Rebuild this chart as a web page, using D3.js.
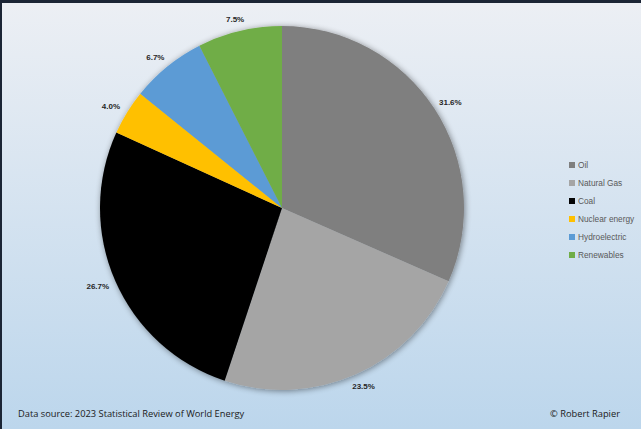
<!DOCTYPE html>
<html><head><meta charset="utf-8">
<script src="https://cdn.jsdelivr.net/npm/d3@7"></script>
<style>body{margin:0;padding:0;overflow:hidden;background:#fff}</style>
</head><body>
<script>
const categories = ["Oil","Natural Gas","Coal","Nuclear energy","Hydroelectric","Renewables"];
const values = [31.6,23.5,26.7,4.0,6.7,7.5];
const labels = ["31.6%","23.5%","26.7%","4.0%","6.7%","7.5%"];
const colors = ["#7f7f7f","#a5a5a5","#050505","#ffc000","#5b9bd5","#70ad47"];

const W=641,H=429;
const svg=d3.select("body").append("svg").attr("width",W).attr("height",H);
const defs=svg.append("defs");
const g=defs.append("linearGradient").attr("id","bg").attr("x1",0).attr("y1",0).attr("x2",0).attr("y2",1);
g.append("stop").attr("offset","0%").attr("stop-color","#eceff4");
g.append("stop").attr("offset","100%").attr("stop-color","#bcd6ec");
const f=defs.append("filter").attr("id","sh").attr("x","-20%").attr("y","-20%").attr("width","140%").attr("height","140%");
f.append("feGaussianBlur").attr("in","SourceAlpha").attr("stdDeviation",3).attr("result","b");
f.append("feOffset").attr("in","b").attr("dx",1).attr("dy",1).attr("result","o");
f.append("feComponentTransfer").attr("in","o").attr("result","o2").append("feFuncA").attr("type","linear").attr("slope",0.45);
const m=f.append("feMerge");m.append("feMergeNode").attr("in","o2");m.append("feMergeNode").attr("in","SourceGraphic");

svg.append("rect").attr("width",W).attr("height",H).attr("fill","#1b2535");
svg.append("rect").attr("x",2).attr("y",3).attr("width",W-2).attr("height",H-3).attr("fill","url(#bg)");

const cx=282,cy=208,R=182;
const pie=d3.pie().sort(null).value(d=>d)(values);
const arc=d3.arc().innerRadius(0).outerRadius(R);
const gp=svg.append("g").attr("transform",`translate(${cx},${cy})`).attr("filter","url(#sh)");
gp.selectAll("path").data(pie).join("path").attr("d",arc).attr("fill",(d,i)=>colors[i]);

// Excel-like outside-end labels: box offset outward from arc
const gap=8, bw=22, bh=9;
svg.append("g").selectAll("text").data(pie).join("text")
  .attr("transform",d=>{
    const a=(d.startAngle+d.endAngle)/2, s=Math.sin(a), c=Math.cos(a);
    const x=cx+s*(R+gap)+s*bw/2, y=cy-c*(R+gap)-c*bh/2;
    return `translate(${x},${y})`;})
  .attr("text-anchor","middle").attr("dy","0.35em")
  .attr("font-family","Liberation Sans, Arial, sans-serif").attr("font-size",8).attr("font-weight","bold").attr("fill","#262626")
  .text((d,i)=>labels[i]);

const lg=svg.append("g").attr("transform","translate(569,165)");
const y=d3.scalePoint().domain(categories).range([0,90]);
lg.selectAll("rect").data(categories).join("rect").attr("x",0).attr("y",d=>y(d)-3).attr("width",6).attr("height",6).attr("fill",(d,i)=>colors[i]);
lg.selectAll("text").data(categories).join("text").attr("x",9).attr("y",d=>y(d)).attr("dy","0.35em")
  .attr("font-family","Liberation Sans, Arial, sans-serif").attr("font-size",8.3).attr("fill","#595959").text(d=>d);

svg.append("text").attr("x",18).attr("y",417).attr("font-family","Open Sans, sans-serif").attr("font-size",9.3).attr("fill","#1a1a1a").text("Data source: 2023 Statistical Review of World Energy");
svg.append("text").attr("x",620).attr("y",417).attr("text-anchor","end").attr("font-family","Open Sans, sans-serif").attr("font-size",9.3).attr("fill","#1a1a1a").text("© Robert Rapier");
</script>
</body></html>
